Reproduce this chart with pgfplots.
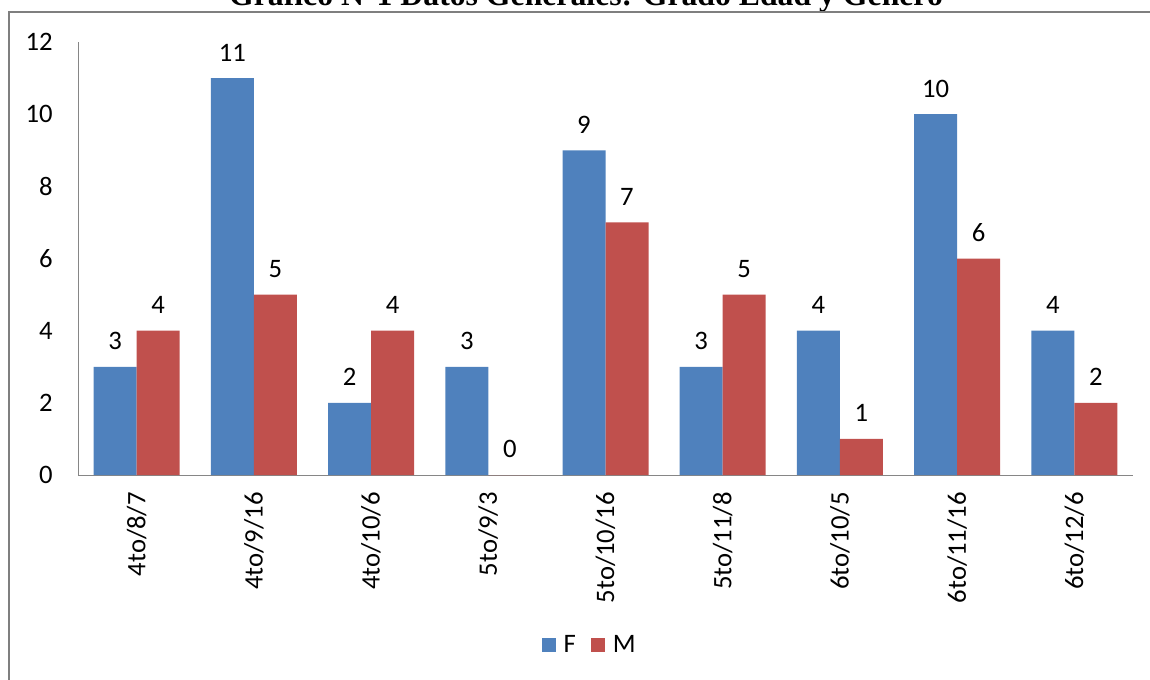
\documentclass[border=0pt]{standalone}
\usepackage{pgfplots}
\pgfplotsset{compat=1.18}
\usepackage{fontspec}
\setmainfont{Carlito}
\newfontfamily\titlefont{Liberation Serif}
\definecolor{barF}{HTML}{4F81BD}
\definecolor{barM}{HTML}{C0504D}
\definecolor{axgray}{HTML}{868686}
\definecolor{framegray}{HTML}{7F7F7F}
\begin{document}
\begin{tikzpicture}
\begin{axis}[
  at={(58.5pt,-356.25pt)}, anchor=south west,
  scale only axis,
  width=791.25pt, height=324.75pt,
  /pgf/number format/assume math mode=true,
  font=\fontsize{20}{24}\selectfont,
  ybar=0pt, bar width=32.25pt,
  xmin=-0.5, xmax=8.5, ymin=0, ymax=12,
  enlargelimits=false,
  xtick=data,
  xticklabels={4to/8/7,4to/9/16,4to/10/6,5to/9/3,5to/10/16,5to/11/8,6to/10/5,6to/11/16,6to/12/6},
  ytick={0,2,...,12},
  axis x line=bottom, axis y line=left,
  axis line style={-, draw=axgray, line width=0.75pt},
  major tick length=0pt,
  xticklabel style={rotate=90, anchor=east, inner sep=0pt},
  xticklabel shift=12.75pt,
  yticklabel style={anchor=east, inner sep=0pt},
  yticklabel shift=18.75pt,
  clip=false,
  nodes near coords,
  every node near coord/.append style={anchor=south, inner sep=0pt, yshift=12.5pt, font=\fontsize{20}{24}\selectfont, text=black},
  legend style={at={(0.484,-0.392)}, anchor=center, draw=none, fill=none,
    legend columns=-1, font=\fontsize{20}{24}\selectfont,
    nodes={inner sep=0pt},
    /tikz/every odd column/.append style={column sep=6pt},
    /tikz/every even column/.append style={column sep=11.25pt}},
  legend image code/.code={\fill[#1] (0pt,-5.25pt) rectangle (10.5pt,5.25pt);},
]
\addplot[fill=barF, draw=none] coordinates {(0,3) (1,11) (2,2) (3,3) (4,9) (5,3) (6,4) (7,10) (8,4)};
\addplot[fill=barM, draw=none] coordinates {(0,4) (1,5) (2,4) (3,0) (4,7) (5,5) (6,1) (7,6) (8,2)};
\legend{F,M}
\end{axis}
\node[anchor=base, font=\titlefont\bfseries\fontsize{23.8}{28}\selectfont] at (439.5pt,-3.75pt) {Gráfico N°1 Datos Generales: Grado Edad y Género};
\draw[framegray, line width=1.1pt] (6.75pt,-520pt) -- (6.75pt,-9pt) -- (870pt,-9pt);
\pgfresetboundingbox
\path[use as bounding box] (0pt,0pt) rectangle (862.5pt,-509.25pt);
\end{tikzpicture}
\end{document}
